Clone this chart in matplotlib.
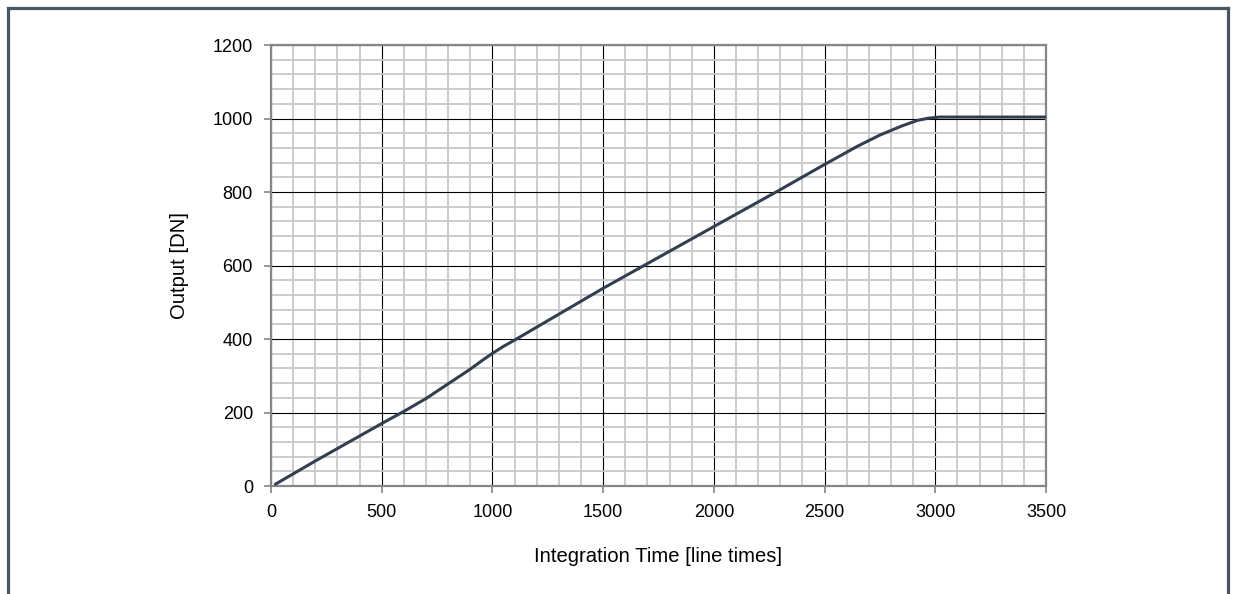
import matplotlib.pyplot as plt
from matplotlib.lines import Line2D
from matplotlib.ticker import MultipleLocator

plt.rcParams['font.family'] = ['Liberation Sans', 'DejaVu Sans']

# integration time [line times] vs output [DN]
integration_time = [20, 200, 400, 500, 600, 700, 800, 900, 950, 1000, 1050, 1100,
                    1500, 2000, 2281, 2500, 2650, 2750, 2850, 2920, 2970, 3020, 3500]
output_dn = [5, 68, 136, 170, 203, 238, 278, 318, 340, 361, 380, 397,
             538, 706, 800, 875, 925, 955, 980, 995, 1001, 1004, 1004]

fig = plt.figure(figsize=(12.38, 5.94), dpi=100)
ax = fig.add_axes([0.2189, 0.1818, 0.6260, 0.7424])

ax.set_xlim(0, 3500)
ax.set_ylim(0, 1200)
ax.xaxis.set_major_locator(MultipleLocator(500))
ax.xaxis.set_minor_locator(MultipleLocator(100))
ax.yaxis.set_major_locator(MultipleLocator(200))
ax.yaxis.set_minor_locator(MultipleLocator(40))

ax.grid(True, which='minor', color='#c8c8c8', linewidth=1.3)
ax.grid(True, which='major', color='black', linewidth=0.8)
ax.set_axisbelow(True)

ax.plot(integration_time, output_dn, color='#333f50', linewidth=2.2,
        solid_capstyle='round', solid_joinstyle='round', zorder=3)

for s in ax.spines.values():
    s.set_color('#868686')
    s.set_linewidth(1.6)

ax.tick_params(which='major', direction='out', length=5, width=1.2,
               color='#868686', labelsize=13, pad=8)
ax.tick_params(which='minor', length=0)

ax.set_xlabel('Integration Time [line times]', fontsize=14.6, labelpad=19)
ax.set_ylabel('Output [DN]', fontsize=14.6, labelpad=17)

# outer frame (open at bottom)
frame_c = '#4a5662'
fig.add_artist(Line2D([8 / 1238, 8 / 1238], [0, 1 - 8 / 594], color=frame_c, lw=2.3))
fig.add_artist(Line2D([8 / 1238, 1228 / 1238], [1 - 8 / 594, 1 - 8 / 594], color=frame_c, lw=2.3))
fig.add_artist(Line2D([1228 / 1238, 1228 / 1238], [0, 1 - 8 / 594], color=frame_c, lw=2.3))

plt.savefig('out.png', dpi=100)
